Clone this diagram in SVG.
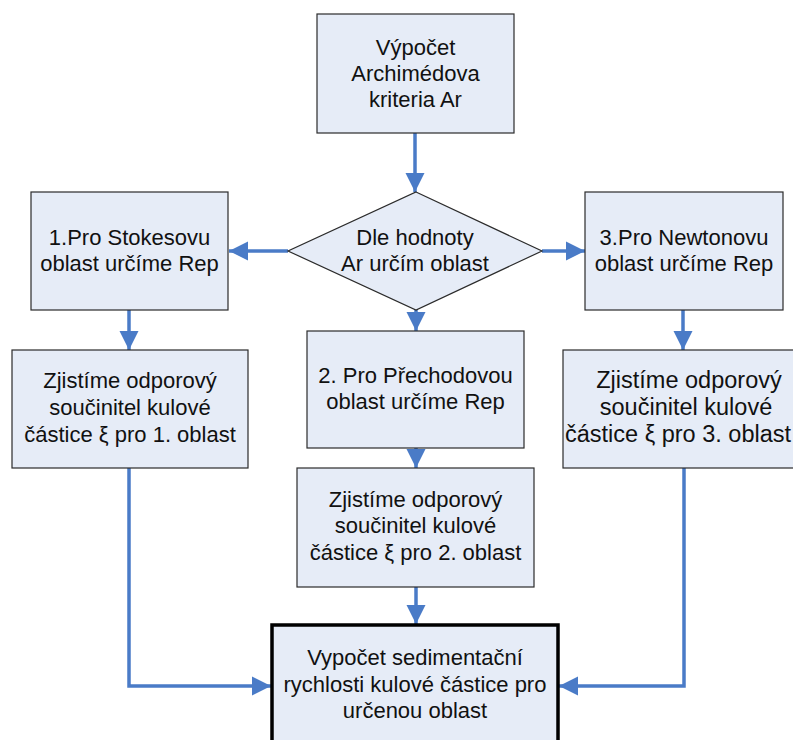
<svg xmlns="http://www.w3.org/2000/svg" width="793" height="740" viewBox="0 0 793 740">
<style>
.box{fill:#E6ECF7;stroke:#2B2B2B;stroke-width:1.2}
.final{fill:#E6ECF7;stroke:#000;stroke-width:3.5}
text{font-family:"Liberation Sans",Arial,sans-serif;font-size:22px;fill:#111;text-anchor:middle}
.big{font-size:23.5px}
.con{fill:none;stroke:#4A7BC7;stroke-width:3.5}
</style>
<defs>
<marker id="ah" markerUnits="userSpaceOnUse" markerWidth="20" markerHeight="20" refX="19" refY="10" orient="auto">
<path d="M0,0.5 L19,10 L0,19.5 z" fill="#4A7BC7"/>
</marker>
</defs>
<rect width="793" height="740" fill="#fff"/>
<g id="connectors">
<path class="con" d="M415,133 V192" marker-end="url(#ah)"/>
<path class="con" d="M288,251 H229" marker-end="url(#ah)"/>
<path class="con" d="M542,251 H585" marker-end="url(#ah)"/>
<path class="con" d="M416,310 V331" marker-end="url(#ah)"/>
<path class="con" d="M129,310 V350" marker-end="url(#ah)"/>
<path class="con" d="M683,310 V350" marker-end="url(#ah)"/>
<path class="con" d="M416,448 V468" marker-end="url(#ah)"/>
<path class="con" d="M416,587 V624" marker-end="url(#ah)"/>
<path class="con" d="M129,468 V686 H271" marker-end="url(#ah)"/>
<path class="con" d="M684,468 V686 H559" marker-end="url(#ah)"/>
</g>
<g id="vypocet-ar">
<rect class="box" x="317" y="14" width="197" height="119"/>
<text x="415.5" y="55">Výpočet</text>
<text x="415.5" y="81">Archimédova</text>
<text x="415.5" y="107">kriteria Ar</text>
</g>
<g id="rozhodnuti">
<polygon class="box" points="416,192 542,251 416,310 288,251"/>
<text x="415" y="245">Dle hodnoty</text>
<text x="415" y="271">Ar určím oblast</text>
</g>
<g id="stokes">
<rect class="box" x="31" y="192" width="197" height="118"/>
<text x="129.5" y="245">1.Pro Stokesovu</text>
<text x="129.5" y="271">oblast určíme Rep</text>
</g>
<g id="newton">
<rect class="box" x="585" y="192" width="198" height="118"/>
<text x="684" y="245">3.Pro Newtonovu</text>
<text x="684" y="271">oblast určíme Rep</text>
</g>
<g id="prechodova">
<rect class="box" x="307" y="331" width="217" height="117"/>
<text x="415.5" y="383">2. Pro Přechodovou</text>
<text x="415.5" y="409">oblast určíme Rep</text>
</g>
<g id="souc1">
<rect class="box" x="12" y="350" width="236" height="118"/>
<text x="130" y="388">Zjistíme odporový</text>
<text x="130" y="415">součinitel kulové</text>
<text x="130" y="442">částice ξ pro 1. oblast</text>
</g>
<g id="souc3">
<rect class="box" x="563" y="350" width="240" height="118"/>
<text class="big" x="689" y="388">Zjistíme odporový</text>
<text class="big" x="686" y="415">součinitel kulové</text>
<text class="big" x="678" y="442">částice ξ pro 3. oblast</text>
</g>
<g id="souc2">
<rect class="box" x="297" y="468" width="237" height="119"/>
<text x="415.5" y="507">Zjistíme odporový</text>
<text x="415.5" y="533">součinitel kulové</text>
<text x="415.5" y="560">částice ξ pro 2. oblast</text>
</g>
<g id="rychlost">
<rect class="final" x="272" y="625" width="286" height="130"/>
<text x="415" y="665">Vypočet sedimentační</text>
<text x="415" y="692">rychlosti kulové částice pro</text>
<text x="415" y="718">určenou oblast</text>
</g>
</svg>
